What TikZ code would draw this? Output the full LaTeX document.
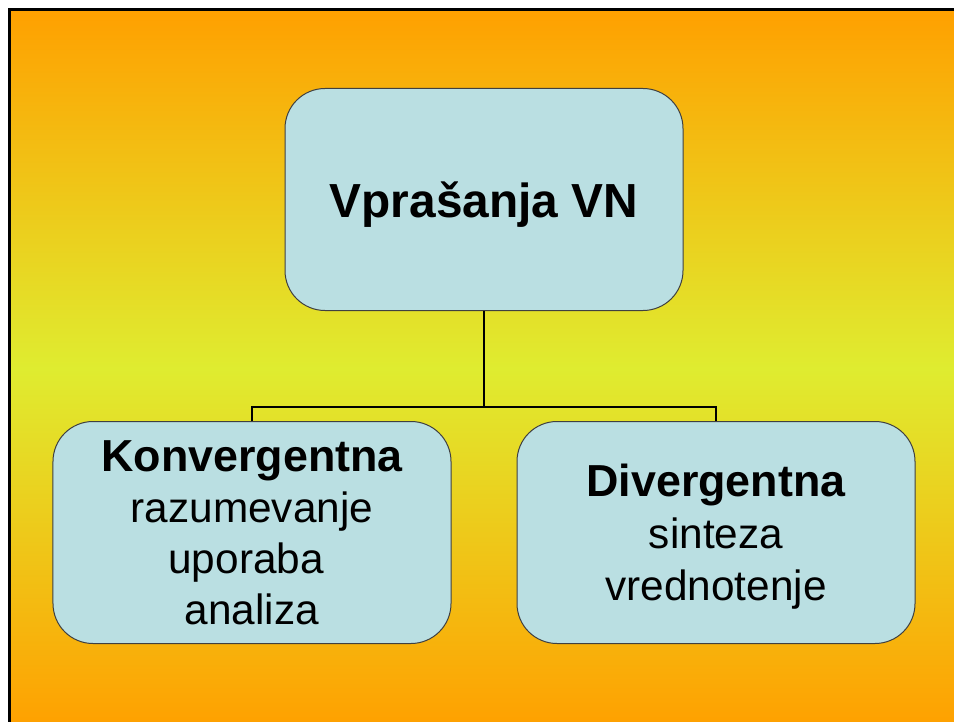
\documentclass[tikz,border=0pt]{standalone}
\usepackage{fontspec}
\setmainfont{Liberation Sans}
\definecolor{bgorange}{RGB}{255,160,0}
\definecolor{bgyellow}{RGB}{223,236,48}
\definecolor{boxblue}{RGB}{186,223,226}
\tikzset{
  qbox/.style={draw=black!75, line width=1bp, fill=boxblue, rounded corners=40bp,
    minimum width=398bp, minimum height=222bp, inner sep=0pt, align=center, text depth=0pt},
  conn/.style={line width=2.5bp}
}
\newcommand{\headfont}{\bfseries\fontsize{45}{51}\selectfont}

\begin{document}
\begin{tikzpicture}[x=1bp,y=-1bp]
    \useasboundingbox (0,0) rectangle (954,722);
    % background
    \shade[top color=bgorange, bottom color=bgorange, middle color=bgyellow] (9,9) rectangle (960,728);
    \draw[line width=3bp] (9.5,728) -- (9.5,9.5) -- (960,9.5);
    % boxes
    \node[qbox, font=\bfseries\fontsize{48}{58}\selectfont] (vpr) at (484,199.5) {Vprašanja VN};
    \node[qbox, font=\fontsize{42.5}{51}\selectfont] (conv) at (252,532.5)
        {{\headfont Konvergentna}\\razumevanje\\uporaba\kern.28em\\analiza};
    \node[qbox, font=\fontsize{42.5}{52}\selectfont] (div) at (716,532.5)
        {{\headfont Divergentna}\\sinteza\\vrednotenje};
    % connectors
    \coordinate (fork) at (484,407);
    \draw[conn] (vpr.south) -- (fork);
    \draw[conn] (conv.north) |- (fork) -| (div.north);
\end{tikzpicture}
\end{document}
